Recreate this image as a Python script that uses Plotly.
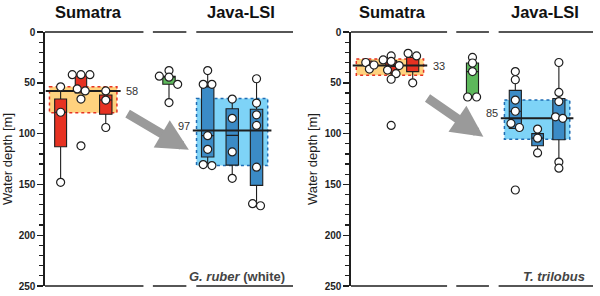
import plotly.graph_objects as go

# ---------------- data (water depth, m) ----------------
groups = ["Sumatra 1", "Sumatra 2", "Sumatra 3", "Middle", "Java-LSI 1", "Java-LSI 2", "Java-LSI 3"]
group_kind = ["sum", "sum", "sum", "mid", "java", "java", "java"]

# G. ruber (white)
ruber_q1 = [66, 42, 62, 43.5, 54, 75.5, 76]
ruber_med = [79, 56, 67, 44.5, 102, 101.7, 97]
ruber_q3 = [113, 60, 81, 51.5, 123, 131, 151]
ruber_min = [54, 42, 58, 43.5, 38, 66, 46]
ruber_max = [148, 60, 94, 69.5, 131, 144, 170]
ruber_pts = [
    [54, 79, 148],
    [42, 42, 42, 56, 58, 66, 112],
    [58, 67, 94],
    [38, 43.5, 44.5, 51.5, 69.5],
    [38, 51.5, 51.5, 102, 115.5, 130.5, 131.5],
    [66, 85, 118, 144],
    [46, 70, 81.5, 92, 133, 169, 171],
]
ruber_jitter = [
    [0, 0, 0],
    [-0.35, 0, 0.36, -0.15, 0.17, 0, 0],
    [0, 0, 0],
    [0, -0.39, 0, 0.35, 0],
    [0, -0.18, 0.17, 0, 0, -0.18, 0.17],
    [0, 0, 0, 0],
    [0, 0, 0, 0, 0, -0.16, 0.16],
]
ruber_sum_band = [54, 79.5]
ruber_sum_mean = 58
ruber_java_band = [65.5, 131.5]
ruber_java_mean = 97

# T. trilobus
trilo_q1 = [28.5, 28, 25, 30.5, 57.5, 100, 65.5]
trilo_med = [31, 34, 33, 39, 78, 104.5, 84]
trilo_q3 = [33, 40.5, 39, 64, 95, 112, 106]
trilo_min = [28.5, 23.5, 25, 25, 39, 95.5, 30]
trilo_max = [33, 46.5, 50, 64, 95, 119, 134]
trilo_pts = [
    [30, 36.5, 32.5],
    [27.5, 23.5, 29, 37.5, 33, 41, 46.5, 92],
    [21, 23.5, 50],
    [25, 30.5, 39, 64, 64],
    [39, 47, 67, 78, 90, 94, 155.5],
    [95.5, 104.5, 119],
    [30, 59.5, 68.5, 83.5, 85, 128, 134],
]
trilo_jitter = [
    [-0.06, 0.09, 0.28],
    [-0.33, 0, 0, -0.15, 0.33, 0.2, 0, 0],
    [-0.19, 0.16, 0],
    [0, 0, 0, -0.2, 0.17],
    [0, 0, 0, 0, -0.18, 0.17, 0],
    [0, 0, 0],
    [0, 0, 0, -0.14, 0.16, 0, 0],
]
trilo_sum_band = [26.5, 42.5]
trilo_sum_mean = 33
trilo_java_band = [67, 105.5]
trilo_java_mean = 85

y_ticks = [0, 50, 100, 150, 200, 250]
region_titles = ["Sumatra", "Java-LSI"]

# ---------------- layout / style ----------------
FONT = "Liberation Sans, Arial, sans-serif"
W, H = 600, 296
TOP_PX, BOT_PX = 32, 286
panels = [
    dict(x="x", y="y", y2="y3", xl="xaxis", yl="yaxis", yl2="yaxis3", px=(45, 293),
         pos=[0.63, 1.45, 2.45, 5.0, 6.56, 7.55, 8.53],
         widths=[0.48, 0.46, 0.5, 0.5, 0.5, 0.5, 0.5],
         q1=ruber_q1, med=ruber_med, q3=ruber_q3, lo=ruber_min, hi=ruber_max,
         pts=ruber_pts, jit=ruber_jitter,
         sband=ruber_sum_band, smean=ruber_sum_mean, jband=ruber_java_band, jmean=ruber_java_mean,
         title_x=[1.77, 7.9], arrow=((3.27, 79.5), (5.8, 116)),
         species="<b><i>G. ruber</i> (white)</b>"),
    dict(x="x2", y="y2", y2="y4", xl="xaxis2", yl="yaxis2", yl2="yaxis4", px=(351, 593),
         pos=[0.67, 1.66, 2.55, 5.02, 6.79, 7.71, 8.59],
         widths=[0.37, 0.45, 0.5, 0.5, 0.5, 0.48, 0.5],
         q1=trilo_q1, med=trilo_med, q3=trilo_q3, lo=trilo_min, hi=trilo_max,
         pts=trilo_pts, jit=trilo_jitter,
         sband=trilo_sum_band, smean=trilo_sum_mean, jband=trilo_java_band, jmean=trilo_java_mean,
         title_x=[1.71, 8.02], arrow=((3.1, 64), (5.47, 103)),
         species="<b><i>T. trilobus</i></b>"),
]
fill = {"sum": "#E63222", "mid": "#5DB85B", "java": "#3B8BC6"}
DARK = "#1e1e1e"

fig = go.Figure()
shapes, annots = [], []
layout = dict(width=W, height=H, margin=dict(l=0, r=0, t=0, b=0, autoexpand=False),
              paper_bgcolor="white", plot_bgcolor="rgba(0,0,0,0)",
              showlegend=False, font=dict(family=FONT, color=DARK))
ydom = [1 - BOT_PX / H, 1 - TOP_PX / H]

for p in panels:
    xdom = [p["px"][0] / W, p["px"][1] / W]
    layout[p["xl"]] = dict(domain=xdom, range=[0, 10], visible=False, anchor=p["y"],
                           fixedrange=True, automargin=False)
    common = dict(domain=ydom, range=[250, 0], anchor=p["x"], showline=True, linewidth=1.6,
                  linecolor=DARK, showgrid=False, zeroline=False, tickvals=y_ticks,
                  tickwidth=1.4, tickcolor=DARK, ticklen=6, automargin=False,
                  minor=dict(dtick=10, ticklen=4, tickwidth=1.2, tickcolor=DARK))
    layout[p["yl"]] = dict(common, ticks="outside", side="left",
                           tickfont=dict(size=10, weight="bold", family=FONT, color=DARK),
                           title=dict(text="Water depth [m]", font=dict(size=13, family=FONT, color=DARK),
                                      standoff=4))
    layout[p["yl"]]["minor"] = dict(common["minor"], ticks="outside")
    layout[p["yl2"]] = dict(common, ticks="inside", side="right", overlaying=p["y"],
                            showticklabels=False)
    layout[p["yl2"]]["minor"] = dict(common["minor"], ticks="inside")

    pos = p["pos"]
    xs, ys = p["x"], p["y"]
    # shaded range bands
    for kind, band, mean, col_f, col_l, lab_side in [
        ("sum", p["sband"], p["smean"], "#FFD27E", "#E63222", "right"),
        ("java", p["jband"], p["jmean"], "#7ED3F7", "#1F6DB5", "left"),
    ]:
        idx = [i for i, k in enumerate(group_kind) if k == kind]
        x0 = min(pos[i] for i in idx) - 0.45
        x1 = max(pos[i] for i in idx) + 0.45
        shapes.append(dict(type="rect", xref=xs, yref=ys, x0=x0, x1=x1, y0=band[0], y1=band[1],
                           fillcolor=col_f, line=dict(color=col_l, width=1.5, dash="dot"), layer="below"))
        p.setdefault("means", []).append((x0 - 0.15, x1 + 0.15, mean, lab_side))

    # boxes
    for i in range(len(groups)):
        fig.add_trace(go.Box(
            x=[pos[i]], q1=[p["q1"][i]], median=[p["med"][i]], q3=[p["q3"][i]],
            lowerfence=[p["lo"][i]], upperfence=[p["hi"][i]], width=p["widths"][i],
            fillcolor=fill[group_kind[i]], line=dict(color=DARK, width=1.1),
            whiskerwidth=0, boxpoints=False, xaxis=xs, yaxis=ys, hoverinfo="skip"))

    # mean lines + labels
    for (m0, m1, mean, side) in p["means"]:
        fig.add_trace(go.Scatter(x=[m0, m1], y=[mean, mean], mode="lines",
                                 line=dict(color=DARK, width=2), xaxis=xs, yaxis=ys, hoverinfo="skip"))
        if side == "right":
            annots.append(dict(x=m1 + 0.15, y=mean, xref=xs, yref=ys, text=str(mean), showarrow=False,
                               xanchor="left", yanchor="middle", font=dict(size=11, color="#333", family=FONT)))
        else:
            annots.append(dict(x=m0 - 0.02, y=mean, xref=xs, yref=ys, text=str(mean), showarrow=False,
                               xanchor="right", yanchor="bottom", yshift=-3,
                               font=dict(size=11, color="#333", family=FONT)))

    # points
    px_, py_ = [], []
    for i in range(len(groups)):
        for d, j in zip(p["pts"][i], p["jit"][i]):
            px_.append(pos[i] + j)
            py_.append(d)
    fig.add_trace(go.Scatter(x=px_, y=py_, mode="markers", xaxis=xs, yaxis=ys, hoverinfo="skip",
                             marker=dict(size=8, color="white", line=dict(color=DARK, width=1.2))))

    # broken top / bottom frame
    for seg in [(0, 3.97), (4.35, 5.7), (6.1, 10)]:
        for yy in (0, 1):
            shapes.append(dict(type="line", xref=xs, yref=ys + " domain", x0=seg[0], x1=seg[1],
                               y0=yy, y1=yy, line=dict(color=DARK, width=1.6), layer="above"))

    # region titles
    for t, tx in zip(region_titles, p["title_x"]):
        annots.append(dict(x=tx, y=1 - 12.5 / H, xref=xs, yref="paper", text="<b>%s</b>" % t,
                           showarrow=False, xanchor="center", yanchor="middle",
                           font=dict(size=16.5, color="#111", family=FONT)))
    # arrow
    (tx0, ty0), (tx1, ty1) = p["arrow"]
    annots.append(dict(x=tx1, y=ty1, ax=tx0, ay=ty0, xref=xs, yref=ys, axref=xs, ayref=ys,
                       text="", showarrow=True, arrowhead=2, arrowsize=0.7, arrowwidth=9,
                       arrowcolor="#9a9a9a", standoff=0))
    # species label
    annots.append(dict(x=0.975, y=241, xref=xs + " domain", yref=ys, text=p["species"],
                       showarrow=False, xanchor="right", yanchor="middle",
                       font=dict(size=13, color="#444", family=FONT)))

layout["shapes"] = shapes
layout["annotations"] = annots
fig.update_layout(**layout)
fig.write_html("out.html", config={"displayModeBar": False, "staticPlot": True},
               post_script="document.body.style.margin='0';document.body.style.padding='0';")
